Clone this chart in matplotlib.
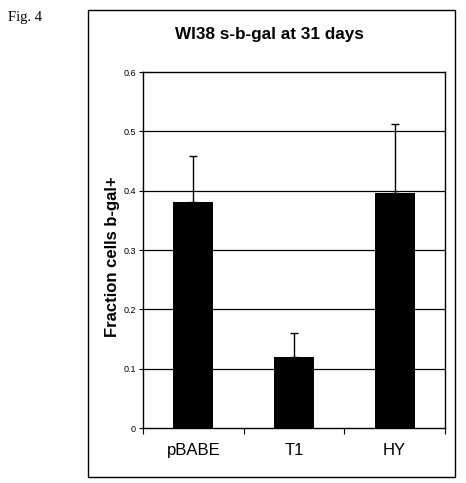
import matplotlib
matplotlib.use("Agg")
import matplotlib.pyplot as plt  # noqa: E402
from matplotlib.patches import Rectangle  # noqa: E402

# values
groups = ["pBABE", "T1", "HY"]
fraction = [0.381, 0.12, 0.396]
err_up = [0.078, 0.04, 0.116]
yticks = [0, 0.1, 0.2, 0.3, 0.4, 0.5, 0.6]
ytick_labels = ["0", "0.1", "0.2", "0.3", "0.4", "0.5", "0.6"]

plt.rcParams["font.family"] = ["Liberation Sans", "DejaVu Sans"]

W, H = 466, 483
fig = plt.figure(figsize=(W / 100, H / 100), dpi=100)

# outer frame around the chart
fig.patches.append(Rectangle((88 / W, 1 - 477 / H), (455 - 88) / W, (477 - 10) / H,
                             transform=fig.transFigure, fill=False, lw=1.0,
                             ec="black"))
fig.text(8 / W, 1 - 18 / H, "Fig. 4", family="Liberation Serif", fontsize=10.5,
         va="center", ha="left")
fig.text(269 / W, 1 - 35 / H, "WI38 s-b-gal at 31 days", fontsize=12.3,
         fontweight="bold", ha="center", va="center")
fig.text(112 / W, 1 - 257 / H, "Fraction cells b-gal+", fontsize=12,
         fontweight="bold", rotation=90, ha="center", va="center")

ax = fig.add_axes([143 / W, 1 - 428 / H, 302 / W, (428 - 72) / H])
x = list(range(len(groups)))
ax.bar(x, fraction, width=0.4, color="black", zorder=3)
ax.errorbar(x, fraction, yerr=[[0] * len(x), err_up], fmt="none", ecolor="black",
            elinewidth=1, capsize=3, capthick=1, zorder=2)

ax.set_xlim(-0.5, 2.5)
ax.set_ylim(0, 0.6)
ax.set_yticks(yticks)
ax.set_yticklabels(ytick_labels, fontsize=6.5)
for yv in yticks[1:-1]:
    ax.axhline(yv, color="black", lw=0.9, zorder=1)

ax.set_xticks([-0.5, 0.5, 1.5, 2.5])
ax.set_xticklabels([])
ax.set_xticks(x, minor=True)
ax.set_xticklabels(groups, minor=True, fontsize=12)
ax.tick_params(axis="x", which="minor", length=0, pad=11)
ax.tick_params(axis="x", which="major", length=4, direction="out")
ax.tick_params(axis="y", length=3, direction="out", pad=2)
for s in ax.spines.values():
    s.set_linewidth(1)

fig.savefig("out.png", dpi=100)
